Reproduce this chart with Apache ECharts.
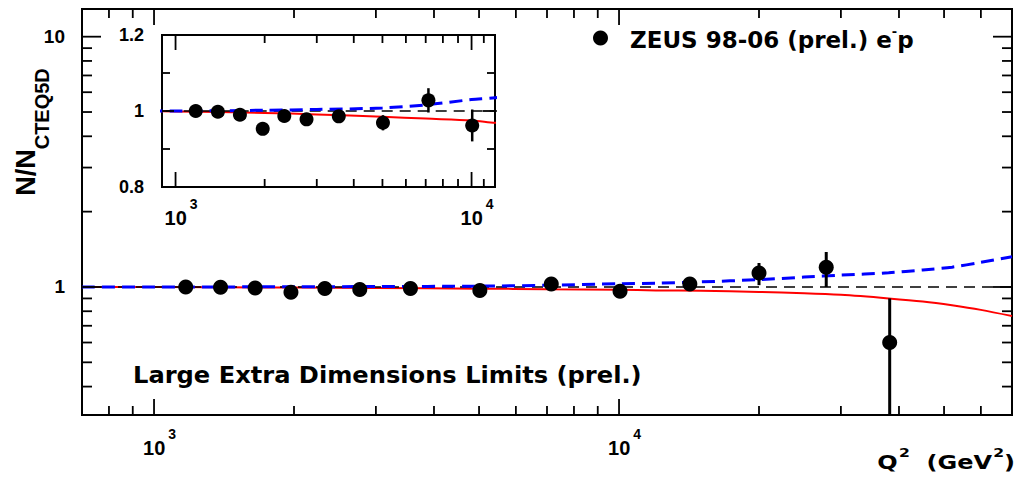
<!DOCTYPE html>
<html><head><meta charset="utf-8">
<script src="https://cdn.jsdelivr.net/npm/echarts@6/dist/echarts.min.js"></script>
<style>html,body{margin:0;padding:0;background:#fff}#c{width:1024px;height:480px}</style>
</head><body><div id="c"></div>
<script>
// ---- data ----
const q2 = [1170, 1390, 1650, 1970, 2330, 2770, 3560, 5020, 7150, 10050, 14200, 20000, 27900, 38200];
const ratio = [1.0, 0.998, 0.99, 0.953, 0.987, 0.978, 0.986, 0.969, 1.028, 0.962, 1.028, 1.137, 1.20, 0.60];
const errUp = [0.008, 0.008, 0.009, 0.01, 0.011, 0.015, 0.013, 0.02, 0.032, 0.042, 0.03, 0.11, 0.18, 0.30];
const errDown = [0.008, 0.008, 0.009, 0.01, 0.011, 0.015, 0.013, 0.02, 0.032, 0.042, 0.03, 0.12, 0.20, 0.60];

const curveQ2 = [700, 1000, 2000, 3000, 5000, 7000, 10000, 12000, 15000, 20000, 25000, 30000, 38000, 45000, 52000, 60000, 70000];
const ledPlus = [1.0, 1.0, 1.002, 1.004, 1.008, 1.016, 1.03, 1.035, 1.048, 1.07, 1.095, 1.115, 1.14, 1.17, 1.20, 1.255, 1.32];
const ledMinus = [1.0, 0.999, 0.995, 0.991, 0.985, 0.98, 0.975, 0.969, 0.965, 0.955, 0.944, 0.93, 0.90, 0.875, 0.845, 0.81, 0.765];
const smQ2 = [700, 70000];
const smRatio = [1, 1];

const mainXMinor = [800, 900, 2000, 3000, 4000, 5000, 6000, 7000, 8000, 9000, 20000, 30000, 40000, 50000, 60000];
const mainXMajor = [1000, 10000];
const mainYMinor = [0.4, 0.5, 0.6, 0.7, 0.8, 0.9, 2, 3, 4, 5, 6, 7, 8, 9];
const mainYMajor = [1, 10];
const insXMinor = [2000, 3000, 4000, 5000, 6000, 7000, 8000, 9000, 11000];
const insXMajor = [1000, 10000];
const insYMinor = [0.9, 1.1];
const insYMajor = [1.0];

const MAIN_X = [700, 70000], MAIN_Y = [0.308, 12.9];
const INS_X = [900, 12000], INS_Y = [0.8, 1.2];

// ---- helpers ----
const pair = (xs, ys) => xs.map((x, i) => [x, ys[i]]);
const isPow10 = v => { const l = Math.log10(v); return Math.abs(l - Math.round(l)) < 1e-6; };
const powLabel = v => isPow10(v) ? '{b|10}{s|' + Math.round(Math.log10(v)) + '}' : '';
const powRich = {
  b: { fontFamily: 'Liberation Sans', fontWeight: 'bold', fontSize: 20, lineHeight: 20, color: '#000', padding: [11, 0, 0, 11] },
  s: { fontFamily: 'Liberation Sans', fontWeight: 'bold', fontSize: 14, lineHeight: 14, color: '#000', padding: [0, 0, 17, 3] }
};

function tickSeries(xi, yi, dir, majors, minors, lMaj, lMin, xr, yr) {
  const data = minors.map(v => [v, lMin]).concat(majors.map(v => [v, lMaj]));
  return {
    type: 'custom', xAxisIndex: xi, yAxisIndex: yi, silent: true, z: 10, data,
    renderItem: (params, api) => {
      const v = api.value(0), L = api.value(1);
      const st = { stroke: '#000', lineWidth: 1.8 };
      let a, b, s1, s2;
      if (dir === 'x') {
        a = api.coord([v, yr[0]]); b = api.coord([v, yr[1]]);
        s1 = { x1: a[0], y1: a[1], x2: a[0], y2: a[1] - L };
        s2 = { x1: b[0], y1: b[1], x2: b[0], y2: b[1] + L };
      } else {
        a = api.coord([xr[0], v]); b = api.coord([xr[1], v]);
        s1 = { x1: a[0], y1: a[1], x2: a[0] + L, y2: a[1] };
        s2 = { x1: b[0], y1: b[1], x2: b[0] - L, y2: b[1] };
      }
      return { type: 'group', children: [
        { type: 'line', shape: s1, style: st },
        { type: 'line', shape: s2, style: st }
      ] };
    }
  };
}

function errSeries(xi, yi, yr, lw) {
  return {
    type: 'custom', xAxisIndex: xi, yAxisIndex: yi, silent: true, z: 4,
    data: q2.map((q, i) => [q, ratio[i], ratio[i] - errDown[i], ratio[i] + errUp[i]]),
    renderItem: (params, api) => {
      const x = api.value(0), y = api.value(1);
      const lo = Math.max(api.value(2), yr[0]), hi = Math.min(api.value(3), yr[1]);
      const cs = params.coordSys;
      const p = api.coord([x, y]);
      if (p[0] < cs.x - 1 || p[0] > cs.x + cs.width + 1) return null;
      const a = api.coord([x, hi]), b = api.coord([x, lo]);
      return { type: 'line', shape: { x1: a[0], y1: a[1], x2: b[0], y2: b[1] }, style: { stroke: '#000', lineWidth: lw } };
    }
  };
}

function curveSet(xi, yi) {
  return [
    { type: 'line', xAxisIndex: xi, yAxisIndex: yi, data: pair(curveQ2, ledMinus), smooth: 0.3, symbol: 'none', z: 2,
      lineStyle: { color: '#ff0000', width: 2 }, silent: true },
    { type: 'line', xAxisIndex: xi, yAxisIndex: yi, data: pair(smQ2, smRatio), symbol: 'none', z: 2,
      lineStyle: { color: '#000', width: 1.6, type: [11, 7] }, silent: true },
    { type: 'line', xAxisIndex: xi, yAxisIndex: yi, data: pair(curveQ2, ledPlus), smooth: 0.3, symbol: 'none', z: 3,
      lineStyle: { color: '#0000ff', width: 3, type: [13, 7] }, silent: true }
  ];
}

const chart = echarts.init(document.getElementById('c'), null, { renderer: 'svg', width: 1024, height: 480 });

const option = {
  animation: false,
  backgroundColor: '#fff',
  grid: [
    { left: 82, top: 9, right: 12, bottom: 65, show: true, borderColor: '#000', borderWidth: 2, backgroundColor: 'transparent', outerBoundsMode: 'none', containLabel: false },
    { left: 162, top: 35, width: 333, height: 152, show: true, borderColor: '#000', borderWidth: 2, backgroundColor: '#fff', outerBoundsMode: 'none', containLabel: false, z: 3 }
  ],
  xAxis: [
    { type: 'log', logBase: 10, gridIndex: 0, min: MAIN_X[0], max: MAIN_X[1],
      axisLine: { show: false }, axisTick: { show: false }, splitLine: { show: false }, minorTick: { show: false },
      axisLabel: { formatter: powLabel, rich: powRich, margin: 17, showMinLabel: false, showMaxLabel: false } },
    { type: 'log', logBase: 10, gridIndex: 1, min: INS_X[0], max: INS_X[1],
      axisLine: { show: false }, axisTick: { show: false }, splitLine: { show: false }, minorTick: { show: false },
      axisLabel: { formatter: powLabel, rich: powRich, margin: 15, showMinLabel: false, showMaxLabel: false } }
  ],
  yAxis: [
    { type: 'log', logBase: 10, gridIndex: 0, min: MAIN_Y[0], max: MAIN_Y[1],
      axisLine: { show: false }, axisTick: { show: false }, splitLine: { show: false }, minorTick: { show: false },
      axisLabel: { formatter: v => isPow10(v) ? String(Math.round(v)) : '', margin: 17,
        fontFamily: 'Liberation Sans', fontWeight: 'bold', fontSize: 19, color: '#000', showMinLabel: false, showMaxLabel: false } },
    { type: 'value', gridIndex: 1, min: INS_Y[0], max: INS_Y[1], interval: 0.2,
      axisLine: { show: false }, axisTick: { show: false }, splitLine: { show: false },
      axisLabel: { formatter: v => Math.abs(v - 1) < 1e-9 ? '1' : v.toFixed(1), margin: 18,
        fontFamily: 'Liberation Sans', fontWeight: 'bold', fontSize: 18, color: '#000' } }
  ],
  legend: {
    left: 588, top: 20, itemWidth: 15, itemHeight: 15, icon: 'circle', selectedMode: false,
    data: ['ZEUS'],
    formatter: () => '{g| }{t|ZEUS 98-06 (prel.) e}{u|-}{t|p}',
    textStyle: { rich: {
      g: { width: 17, fontSize: 10 },
      t: { fontFamily: 'DejaVu Sans', fontWeight: 'bold', fontSize: 23, lineHeight: 23, color: '#000', padding: [3, 0, 0, 0] },
      u: { fontFamily: 'DejaVu Sans', fontWeight: 'bold', fontSize: 13, lineHeight: 13, color: '#000', padding: [0, 0, 13, 0] }
    } }
  },
  graphic: [
    { type: 'text', x: 133, y: 375, scaleX: 1.05, originX: 0, z: 20, silent: true,
      style: { text: 'Large Extra Dimensions Limits (prel.)', fontFamily: 'DejaVu Sans', fontWeight: 'bold', fontSize: 23, fill: '#000', align: 'left', verticalAlign: 'middle' } },
    { type: 'text', x: 1015, y: 458, scaleX: 1.2, originX: 0, originY: 0, z: 20, silent: true,
      style: { text: '{q|Q}{s|2}{q|  (GeV}{s|2}{q|)}', align: 'right', verticalAlign: 'middle',
        rich: {
          q: { fontFamily: 'DejaVu Sans', fontWeight: 'bold', fontSize: 20, lineHeight: 20, fill: '#000', padding: [8, 0, 0, 0] },
          s: { fontFamily: 'DejaVu Sans', fontWeight: 'bold', fontSize: 13, lineHeight: 13, fill: '#000', padding: [0, 0, 12, 1] }
        } } },
    { type: 'text', x: 32, y: 132, rotation: Math.PI / 2, z: 20, silent: true,
      style: { text: '{n|N/N}{s|CTEQ5D}', align: 'center', verticalAlign: 'middle',
        rich: {
          n: { fontFamily: 'Liberation Sans', fontWeight: 'bold', fontSize: 27, lineHeight: 27, fill: '#000', padding: [0, 0, 12, 0] },
          s: { fontFamily: 'Liberation Sans', fontWeight: 'bold', fontSize: 20, lineHeight: 20, fill: '#000', padding: [19, 0, 0, 0] }
        } } }
  ],
  series: [
    ...curveSet(0, 0),
    errSeries(0, 0, MAIN_Y, 3),
    { name: 'ZEUS', type: 'scatter', xAxisIndex: 0, yAxisIndex: 0, data: pair(q2, ratio), symbol: 'circle', symbolSize: 15,
      itemStyle: { color: '#000', opacity: 1 }, z: 5, silent: true },
    tickSeries(0, 0, 'x', mainXMajor, mainXMinor, 16, 9, MAIN_X, MAIN_Y),
    tickSeries(0, 0, 'y', mainYMajor, mainYMinor, 19, 10, MAIN_X, MAIN_Y),
    ...curveSet(1, 1).map(s => Object.assign(s, { z: s.z + 10 })),
    Object.assign(errSeries(1, 1, INS_Y, 2.5), { z: 14 }),
    { name: 'ZEUS', type: 'scatter', xAxisIndex: 1, yAxisIndex: 1, data: pair(q2, ratio), symbol: 'circle', symbolSize: 14,
      itemStyle: { color: '#000', opacity: 1 }, z: 15, clip: true, silent: true },
    Object.assign(tickSeries(1, 1, 'x', insXMajor, insXMinor, 15, 8, INS_X, INS_Y), { z: 16 }),
    Object.assign(tickSeries(1, 1, 'y', insYMajor, insYMinor, 12, 8, INS_X, INS_Y), { z: 16 })
  ]
};
chart.setOption(option);
</script>
</body></html>
